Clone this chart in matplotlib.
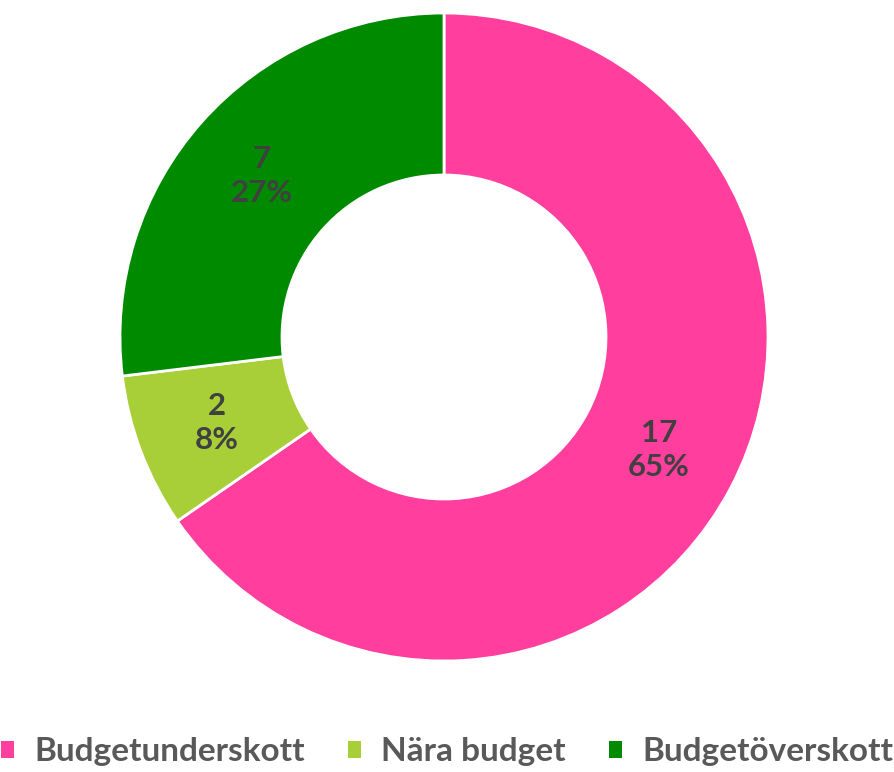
import numpy as np
import matplotlib.pyplot as plt
from matplotlib.patches import Patch

# data
categories = ['Budgetunderskott', 'Nära budget', 'Budgetöverskott']
counts = [17, 2, 7]
pct_labels = ['65%', '8%', '27%']
colors = ['#FF3E9E', '#A8CF38', '#008A00']

plt.rcParams['font.family'] = ['Lato', 'DejaVu Sans']

fig = plt.figure(figsize=(8.94, 7.72), dpi=100)
W, H = 894, 772
cx, cy, R = 444, 772 - 337, 324
ax = fig.add_axes([(cx - R) / W, (cy - R) / H, 2 * R / W, 2 * R / H])

wedges, _ = ax.pie(counts, colors=colors, startangle=90, counterclock=False,
                   radius=1.0, wedgeprops=dict(width=0.5, edgecolor='white', linewidth=2))

total = sum(counts)
ang = 90.0
for n, p in zip(counts, pct_labels):
    span = 360.0 * n / total
    mid = np.deg2rad(ang - span / 2)
    ax.text(0.75 * np.cos(mid), 0.75 * np.sin(mid), f'{n}\n{p}', ha='center', va='center',
            fontsize=22.5, fontweight='bold', color='#404040', linespacing=1.25)
    ang -= span

ax.set_xlim(-1, 1)
ax.set_ylim(-1, 1)
ax.set_aspect('equal')
ax.axis('off')

handles = [Patch(facecolor=c, edgecolor='none') for c in colors]
fig.legend(handles, categories, loc='center', bbox_to_anchor=(0.5, 1 - 752 / H), ncol=3,
           frameon=False, handlelength=0.4, handleheight=0.4, handletextpad=0.6,
           columnspacing=1.3, prop=dict(size=24, weight='bold'), labelcolor='#595959')

fig.savefig('out.png', dpi=100)
